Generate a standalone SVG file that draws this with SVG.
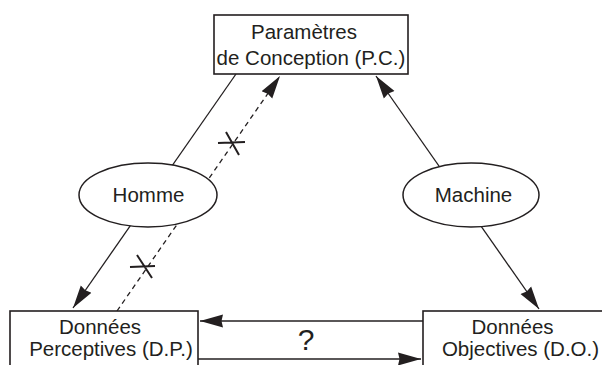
<svg xmlns="http://www.w3.org/2000/svg" width="602" height="365" viewBox="0 0 602 365">
<defs>
<style>
.box{fill:#fff;stroke:#231f20;stroke-width:1.6}
.ell{fill:#fff;stroke:#231f20;stroke-width:1.5}
.ln{fill:none;stroke:#231f20;stroke-width:1.3}
.dash{stroke-dasharray:5 4}
.x{fill:none;stroke:#231f20;stroke-width:2}
text{font-family:"Liberation Sans",Arial,sans-serif;font-size:20.5px;fill:#231f20;text-anchor:middle}
</style>
<marker id="ah" markerWidth="23" markerHeight="14" refX="23" refY="7" orient="auto-start-reverse" markerUnits="userSpaceOnUse">
<path d="M0,0.5 L23,7 L0,13.5 L1.5,7 z" fill="#231f20"/>
</marker>
</defs>
<rect width="602" height="365" fill="#fff"/>
<g id="connectors">
<path class="ln" d="M236,74 L73,308" marker-end="url(#ah)"/>
<path class="ln dash" d="M117,311 L280,76" marker-end="url(#ah)"/>
<path class="ln" d="M376,76 L539,309" marker-start="url(#ah)" marker-end="url(#ah)"/>
<path class="ln" d="M423,321 L200,321" marker-end="url(#ah)"/>
<path class="ln" d="M198,359 L421,359" marker-end="url(#ah)"/>
<path class="x" d="M218,143 L245,142 M226,132 L239,155"/>
<path class="x" d="M130,267 L155,266 M137,255 L152,278"/>
<text x="306" y="350" style="font-size:30px">?</text>
</g>
<g id="homme">
<ellipse class="ell" cx="148" cy="195" rx="69" ry="32"/>
<text x="148.5" y="202">Homme</text>
</g>
<g id="machine">
<ellipse class="ell" cx="471" cy="195" rx="68" ry="32"/>
<text x="473.5" y="202">Machine</text>
</g>
<g id="pc">
<rect class="box" x="214" y="15" width="194" height="59"/>
<text x="304" y="39">Paramètres</text>
<text x="311" y="65">de Conception (P.C.)</text>
</g>
<g id="dp">
<rect class="box" x="10" y="311" width="188" height="70"/>
<text x="100" y="334">Données</text>
<text x="111" y="356">Perceptives (D.P.)</text>
</g>
<g id="do">
<rect class="box" x="423" y="311" width="200" height="70"/>
<text x="512.5" y="334">Données</text>
<text x="520.5" y="356">Objectives (D.O.)</text>
</g>
</svg>
